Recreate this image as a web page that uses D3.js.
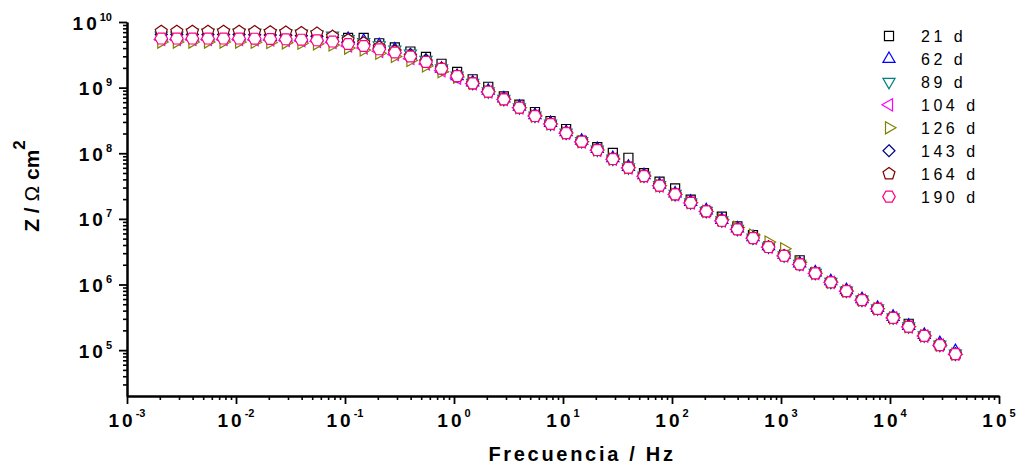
<!DOCTYPE html>
<html><head><meta charset="utf-8">
<script src="https://cdn.jsdelivr.net/npm/d3@7"></script>
<style>body{margin:0;background:#fff}svg{display:block}</style>
</head><body>
<svg id="chart" width="1019" height="466"></svg>
<script>
// ---- data ----
const freq = [0.002062, 0.002865, 0.003981, 0.005532, 0.007686, 0.01068, 0.01484, 0.02062, 0.02865, 0.03981,
  0.05532, 0.07686, 0.1068, 0.1484, 0.2062, 0.2865, 0.3981, 0.5532, 0.7686, 1.068,
  1.484, 2.062, 2.865, 3.981, 5.532, 7.686, 10.68, 14.84, 20.62, 28.65,
  39.81, 55.32, 76.86, 106.8, 148.4, 206.2, 286.5, 398.1, 553.2, 768.6,
  1068, 1484, 2062, 2865, 3981, 5532, 7686, 10680, 14840, 20620, 28650, 39810];

const seriesNames = ["21 d", "62 d", "89 d", "104 d", "126 d", "143 d", "164 d", "190 d"];

const z21 = [6.45e9, 6.45e9, 6.45e9, 6.45e9, 6.45e9, 6.45e9, 6.40e9, 6.34e9, 6.27e9, 6.18e9,
  6.05e9, 5.80e9, 5.71e9, 5.71e9, 4.74e9, 4.09e9, 3.55e9, 2.93e9, 2.31e9, 1.73e9,
  1.34e9, 1.03e9, 7.37e8, 5.49e8, 4.25e8, 3.10e8, 2.34e8, 1.55e8, 1.24e8, 1.01e8,
  8.53e7, 4.99e7, 3.68e7, 2.91e7, 1.96e7, 1.30e7, 1.08e7, 7.69e6, 5.67e6, 3.85e6,
  2.84e6, 2.34e6, 1.53e6, 1.08e6, 7.93e5, 5.78e5, 4.26e5, 3.11e5, 2.52e5, 1.65e5, 1.19e5, 8.69e4];
const z62 = [6.01e9, 6.01e9, 6.01e9, 6.01e9, 6.01e9, 6.01e9, 5.96e9, 5.91e9, 5.85e9, 5.76e9,
  5.84e9, 5.80e9, 5.51e9, 5.14e9, 4.42e9, 3.81e9, 3.09e9, 2.55e9, 1.94e9, 1.50e9,
  1.20e9, 8.97e8, 6.87e8, 5.12e8, 3.82e8, 2.89e8, 2.10e8, 1.55e8, 1.16e8, 8.45e7,
  6.22e7, 4.65e7, 3.31e7, 2.44e7, 1.82e7, 1.35e7, 9.68e6, 7.17e6, 5.28e6, 3.85e6,
  2.84e6, 2.10e6, 1.53e6, 1.12e6, 8.21e5, 5.99e5, 4.41e5, 3.22e5, 2.35e5, 1.71e5, 1.28e5, 9.65e4];
const z89 = [6.22e9, 6.22e9, 6.92e9, 6.92e9, 6.92e9, 6.92e9, 6.87e9, 6.80e9, 6.73e9, 6.63e9,
  6.50e9, 6.22e9, 5.51e9, 4.96e9, 4.42e9, 3.81e9, 3.31e9, 2.64e9, 1.97e9, 1.53e9,
  1.18e9, 8.80e8, 6.75e8, 5.02e8, 3.76e8, 2.84e8, 2.06e8, 1.53e8, 1.14e8, 8.30e7,
  6.12e7, 4.57e7, 3.26e7, 2.40e7, 1.79e7, 1.32e7, 9.52e6, 7.04e6, 5.19e6, 3.79e6,
  2.79e6, 2.07e6, 1.51e6, 1.10e6, 8.07e5, 5.88e5, 4.34e5, 3.17e5, 2.31e5, 1.68e5, 1.21e5, 8.85e4];
const z104 = [5.41e9, 5.41e9, 5.41e9, 5.41e9, 5.41e9, 5.41e9, 5.37e9, 5.32e9, 5.26e9, 5.18e9,
  5.08e9, 4.87e9, 4.31e9, 4.02e9, 3.58e9, 3.20e9, 2.78e9, 2.29e9, 1.81e9, 1.40e9,
  1.15e9, 8.60e8, 6.60e8, 4.92e8, 3.68e8, 2.78e8, 2.02e8, 1.49e8, 1.11e8, 8.12e7,
  5.98e7, 4.47e7, 3.19e7, 2.35e7, 1.75e7, 1.29e7, 9.32e6, 6.90e6, 5.08e6, 3.71e6,
  2.73e6, 2.02e6, 1.47e6, 1.08e6, 7.90e5, 5.76e5, 4.25e5, 3.10e5, 2.26e5, 1.64e5, 1.19e5, 8.66e4];
const z126 = [4.95e9, 4.95e9, 4.95e9, 4.95e9, 4.95e9, 4.95e9, 4.92e9, 4.87e9, 4.82e9, 4.75e9,
  4.65e9, 4.46e9, 4.01e9, 3.75e9, 3.34e9, 2.98e9, 2.59e9, 2.14e9, 1.75e9, 1.45e9,
  1.16e9, 8.66e8, 6.63e8, 4.94e8, 3.69e8, 2.79e8, 2.03e8, 1.50e8, 1.12e8, 8.16e7,
  6.01e7, 4.49e7, 3.20e7, 2.36e7, 1.76e7, 1.30e7, 9.68e6, 7.42e6, 5.67e6, 4.43e6,
  3.50e6, 2.18e6, 1.48e6, 1.08e6, 7.93e5, 5.78e5, 4.26e5, 3.11e5, 2.27e5, 1.65e5, 1.19e5, 8.69e4];
const z143 = [6.45e9, 6.45e9, 6.45e9, 6.45e9, 6.45e9, 6.45e9, 6.40e9, 6.34e9, 6.27e9, 6.18e9,
  6.05e9, 5.80e9, 4.96e9, 4.62e9, 4.12e9, 3.68e9, 3.20e9, 2.64e9, 1.95e9, 1.51e9,
  1.17e9, 8.70e8, 6.68e8, 4.97e8, 3.71e8, 2.81e8, 2.04e8, 1.51e8, 1.13e8, 8.20e7,
  6.05e7, 4.52e7, 3.22e7, 2.37e7, 1.77e7, 1.31e7, 9.40e6, 6.96e6, 5.13e6, 3.74e6,
  2.75e6, 2.04e6, 1.49e6, 1.09e6, 7.97e5, 5.81e5, 4.28e5, 3.13e5, 2.28e5, 1.66e5, 1.20e5, 8.74e4];
const z164 = [7.16e9, 7.16e9, 7.16e9, 7.16e9, 7.16e9, 7.16e9, 7.11e9, 7.04e9, 6.97e9, 6.86e9,
  6.72e9, 6.01e9, 5.32e9, 4.79e9, 4.12e9, 3.55e9, 2.99e9, 2.47e9, 1.95e9, 1.50e9,
  1.16e9, 8.68e8, 6.64e8, 4.95e8, 3.70e8, 2.80e8, 2.03e8, 1.50e8, 1.12e8, 8.18e7,
  6.02e7, 4.50e7, 3.21e7, 2.36e7, 1.76e7, 1.30e7, 9.37e6, 6.93e6, 5.11e6, 3.73e6,
  2.74e6, 2.03e6, 1.48e6, 1.08e6, 7.94e5, 5.79e5, 4.27e5, 3.12e5, 2.27e5, 1.65e5, 1.19e5, 8.70e4];
const z190 = [5.60e9, 5.60e9, 5.60e9, 5.60e9, 5.60e9, 5.60e9, 5.56e9, 5.51e9, 5.45e9, 5.37e9,
  5.26e9, 5.04e9, 4.62e9, 4.31e9, 3.84e9, 3.43e9, 2.98e9, 2.46e9, 1.94e9, 1.50e9,
  1.16e9, 8.66e8, 6.63e8, 4.94e8, 3.69e8, 2.79e8, 2.03e8, 1.50e8, 1.12e8, 8.16e7,
  6.01e7, 4.49e7, 3.20e7, 2.36e7, 1.76e7, 1.30e7, 9.35e6, 6.92e6, 5.10e6, 3.72e6,
  2.74e6, 2.03e6, 1.48e6, 1.08e6, 7.93e5, 5.78e5, 4.26e5, 3.11e5, 2.27e5, 1.65e5, 1.19e5, 8.69e4];

const xTickExps = [-3, -2, -1, 0, 1, 2, 3, 4, 5];
const yTickExps = [5, 6, 7, 8, 9, 10];

// ---- build ----
const seriesValues = [z21, z62, z89, z104, z126, z143, z164, z190];
const colors = ["#000000", "#0000ff", "#008080", "#ff00ff", "#808000", "#000080", "#800000", "#ff0080"];
const shapes = [
  {n: 4, r: 6.4, rot: Math.PI / 4},   // square
  {n: 3, r: 7, rot: -Math.PI / 2},    // up triangle
  {n: 3, r: 7, rot: Math.PI / 2},     // down triangle
  {n: 3, r: 7, rot: Math.PI},         // left triangle
  {n: 3, r: 7, rot: 0},               // right triangle
  {n: 4, r: 6, rot: -Math.PI / 2},    // diamond
  {n: 5, r: 6.3, rot: -Math.PI / 2},  // pentagon
  {n: 6, r: 6.3, rot: 0}              // hexagon
];
function poly(s) {
  const pts = d3.range(s.n).map(i => {
    const a = s.rot + i * 2 * Math.PI / s.n;
    return [(s.r * Math.cos(a)).toFixed(2), (s.r * Math.sin(a)).toFixed(2)];
  });
  return "M" + pts.map(p => p.join(",")).join("L") + "Z";
}

const FONT = "'Liberation Sans', Arial, sans-serif";
const svg = d3.select("#chart").style("font-family", FONT);
const x = d3.scaleLog().domain([1e-3, 1e5]).range([127, 999]);
const y = d3.scaleLog().domain([2e4, 1e10]).range([396, 22]);

const xMinor = [], yMinor = [];
for (let e = -3; e < 5; e++) for (let m = 2; m <= 9; m++) xMinor.push(m * Math.pow(10, e));
for (let e = 4; e < 10; e++) for (let m = 2; m <= 9; m++) { const v = m * Math.pow(10, e); if (v > 2e4) yMinor.push(v); }
const xMajor = xTickExps.map(e => Math.pow(10, e));
const yMajor = yTickExps.map(e => Math.pow(10, e));

function styleAxis(g, w) {
  g.select(".domain").attr("stroke", "#000").attr("stroke-width", 2);
  g.selectAll(".tick line").attr("stroke", "#000").attr("stroke-width", w);
  g.selectAll(".tick text").remove();
}

// x axis
svg.append("g").attr("transform", "translate(0,396)")
  .call(d3.axisBottom(x).tickValues(xMinor).tickSize(4).tickSizeOuter(0).tickFormat(""))
  .call(g => styleAxis(g, 1.6));
svg.append("g").attr("transform", "translate(0,396)")
  .call(d3.axisBottom(x).tickValues(xMajor).tickSize(8).tickSizeOuter(0).tickFormat(""))
  .call(g => styleAxis(g, 1.8));
// y axis
svg.append("g").attr("transform", "translate(127,0)")
  .call(d3.axisLeft(y).tickValues(yMinor).tickSize(4).tickSizeOuter(0).tickFormat(""))
  .call(g => styleAxis(g, 1.6));
svg.append("g").attr("transform", "translate(127,0)")
  .call(d3.axisLeft(y).tickValues(yMajor).tickSize(8).tickSizeOuter(0).tickFormat(""))
  .call(g => styleAxis(g, 1.8));

// tick labels
xTickExps.forEach(e => {
  const t = svg.append("text").attr("x", x(Math.pow(10, e))).attr("y", 427)
    .attr("text-anchor", "middle").attr("font-weight", "bold").attr("font-size", 19)
    .attr("letter-spacing", 3);
  t.append("tspan").text("10");
  t.append("tspan").attr("dy", -10).attr("font-size", 11).attr("letter-spacing", 0).text(String(e));
});
yTickExps.forEach(e => {
  const t = svg.append("text").attr("x", 112).attr("y", y(Math.pow(10, e)) + 7.5)
    .attr("text-anchor", "end").attr("font-weight", "bold").attr("font-size", 19)
    .attr("letter-spacing", 3);
  t.append("tspan").text("10");
  t.append("tspan").attr("dy", -9).attr("font-size", 11).attr("letter-spacing", 0).text(String(e));
});

// axis titles
svg.append("text").attr("x", 582).attr("y", 461).attr("text-anchor", "middle")
  .attr("font-weight", "bold").attr("font-size", 20).attr("letter-spacing", 2.7)
  .text("Frecuencia / Hz");
const yt = svg.append("text").attr("transform", "translate(39,186) rotate(-90)")
  .attr("text-anchor", "middle").attr("font-weight", "bold").attr("font-size", 21);
yt.append("tspan").text("Z / ");
yt.append("tspan").attr("font-weight", "normal").text("Ω");
yt.append("tspan").text(" cm");
yt.append("tspan").attr("dy", -14).attr("font-size", 17).text("2");

// data points
seriesValues.forEach((vals, si) => {
  const path = poly(shapes[si]);
  svg.append("g").selectAll("path").data(vals.map((v, i) => [freq[i], v])).join("path")
    .attr("d", path)
    .attr("transform", d => `translate(${x(d[0])},${y(d[1])})`)
    .attr("fill", "#fff").attr("stroke", colors[si]).attr("stroke-width", 1.2);
});

// legend
seriesNames.forEach((name, si) => {
  const cy = 36 + si * 22.95;
  svg.append("path").attr("d", poly(shapes[si])).attr("transform", `translate(889,${cy})`)
    .attr("fill", "#fff").attr("stroke", colors[si]).attr("stroke-width", 1.2);
  svg.append("text").attr("x", 921).attr("y", cy + 6).attr("font-size", 16)
    .attr("letter-spacing", 3.5).text(name);
});
</script>
</body></html>
